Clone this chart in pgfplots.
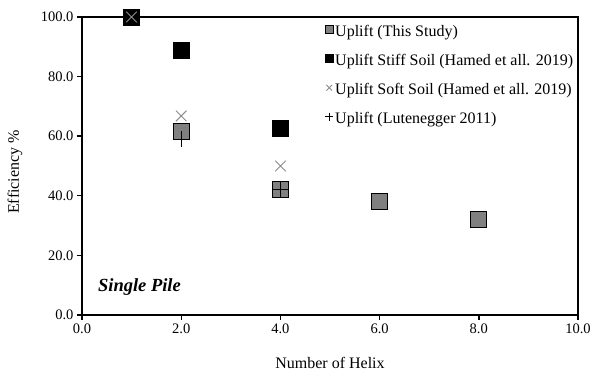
\documentclass[border=0pt]{standalone}
\usepackage{fontspec}
\setmainfont{Liberation Serif}
\usepackage{pgfplots}
\pgfplotsset{compat=1.18}

\definecolor{studygray}{RGB}{128,128,128}
\definecolor{softgray}{RGB}{140,140,140}

\begin{document}
\begin{tikzpicture}
\useasboundingbox (-82pt,-56pt) rectangle (511pt,315pt);
\begin{axis}[
  scale only axis,
  width=496pt, height=298pt,
  at={(0pt,0pt)}, anchor=south west,
  xmin=0, xmax=10, ymin=0, ymax=100,
  xtick={0,2,...,10}, ytick={0,20,...,100},
  xtick pos=bottom, ytick pos=left,
  tick align=outside,
  major tick length=5pt,
  axis line style={line width=1.6pt},
  every tick/.style={black, line width=1.4pt},
  /pgf/number format/assume math mode=true,
  /pgf/number format/fixed,
  /pgf/number format/fixed zerofill,
  /pgf/number format/precision=1,
  /pgf/number format/1000 sep={},
  font=\fontsize{16}{19}\selectfont,
  ticklabel style={font=\fontsize{14.5}{17}\selectfont},
  xlabel={Number of Helix},
  ylabel={Efficiency \%},
  xlabel style={at={(axis description cs:0.5,-0.16)}, anchor=center},
  ylabel style={at={(axis description cs:-0.135,0.48)}, anchor=center},
  clip=false,
  legend style={draw=none, fill=none, at={(axis description cs:0.49,0.978)},
    anchor=north west, font=\fontsize{16}{19}\selectfont,
    row sep=10pt, inner sep=0pt,
    nodes={text height=11pt, text depth=4pt}},
  legend cell align=left,
  legend image code/.code={\draw[#1] plot coordinates {(0pt,3.6pt)};},
]
% this study
\addplot[only marks, mark=square*, mark size=8pt,
  mark options={fill=studygray, draw=black, line width=0.9pt},
  legend image post style={mark size=4pt, line width=0.6pt}]
  coordinates {(1,100) (2,61.7) (4,42) (6,38.1) (8,31.9)};
\addlegendentry{Uplift (This Study)}
% Hamed et al. 2019, stiff soil
\addplot[only marks, mark=square*, mark size=8pt,
  mark options={fill=black, draw=black},
  legend image post style={mark size=4pt}]
  coordinates {(1,100) (2,88.9) (4,62.8)};
\addlegendentry{Uplift Stiff Soil (Hamed et all. 2019)}
% Hamed et al. 2019, soft soil
\addplot[only marks, mark=x, mark size=7.5pt,
  mark options={draw=softgray, line width=0.9pt},
  legend image post style={mark size=4pt, line width=0.6pt}]
  coordinates {(1,100) (2,66.8) (4,50)};
\addlegendentry{Uplift Soft Soil (Hamed et all. 2019)}
% Lutenegger 2011
\addplot[only marks, mark=+, mark size=8pt,
  mark options={draw=black, line width=1pt},
  legend image post style={mark size=4pt, line width=1pt}]
  coordinates {(2,59) (4,42)};
\addlegendentry{Uplift (Lutenegger 2011)}

\node[anchor=base west, font=\fontsize{18.5}{22}\selectfont\bfseries\itshape, inner sep=0pt]
  at (axis cs:0.32,7.8) {Single Pile};
\end{axis}
\end{tikzpicture}
\end{document}
